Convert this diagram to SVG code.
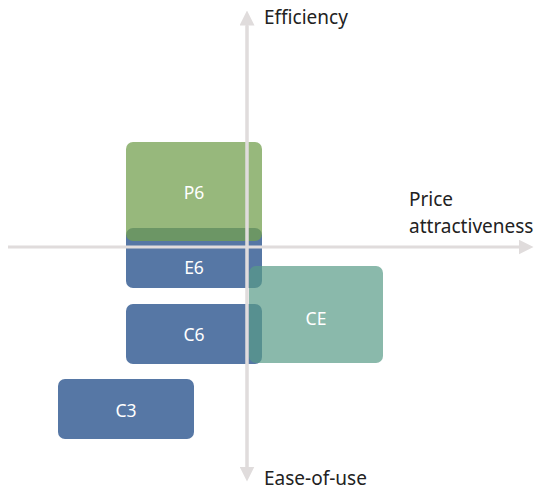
<svg xmlns="http://www.w3.org/2000/svg" width="534" height="490" viewBox="0 0 534 490">
<style>
.lbl{font-family:"Noto Sans","Open Sans",sans-serif;font-size:19px;fill:#222}
.bt{font-family:"Noto Sans","Open Sans",sans-serif;font-size:17.5px;fill:#fff;text-anchor:middle;dominant-baseline:central}
.ax{stroke:#e0dcdc;stroke-width:3;fill:none}
</style>
<defs>
<marker id="ah" viewBox="0 0 10 10" refX="5" refY="5" markerWidth="5" markerHeight="5" markerUnits="strokeWidth" orient="auto">
<path d="M0,0 L10,5 L0,10 Z" fill="#e0dcdc"/>
</marker>
</defs>
<g id="E6"><rect x="126" y="228" width="136" height="60" rx="7" fill="#5677a5"/><text class="bt" x="194" y="267">E6</text></g>
<g id="P6"><rect x="126" y="142" width="136" height="99" rx="7" fill="#74a050" fill-opacity="0.75"/><text class="bt" x="194" y="192">P6</text></g>
<g id="C6"><rect x="126" y="304" width="136" height="60" rx="7" fill="#5677a5"/><text class="bt" x="194" y="334">C6</text></g>
<g id="CE"><rect x="249" y="266" width="134" height="97" rx="7" fill="#599b88" fill-opacity="0.7"/><text class="bt" x="316" y="318">CE</text></g>
<g id="C3"><rect x="58" y="379" width="136" height="60" rx="7" fill="#5677a5"/><text class="bt" x="126" y="410">C3</text></g>
<g id="connectors">
<line class="ax" x1="247" y1="470" x2="247" y2="18" marker-end="url(#ah)"/>
<line class="ax" x1="247" y1="26" x2="247" y2="474" marker-end="url(#ah)"/>
<line class="ax" x1="8" y1="247" x2="526" y2="247" marker-end="url(#ah)"/>
</g>
<text class="lbl" x="264" y="24">Efficiency</text>
<text class="lbl" x="409" y="206">Price</text>
<text class="lbl" x="409" y="233">attractiveness</text>
<text class="lbl" x="264" y="485">Ease-of-use</text>
</svg>
